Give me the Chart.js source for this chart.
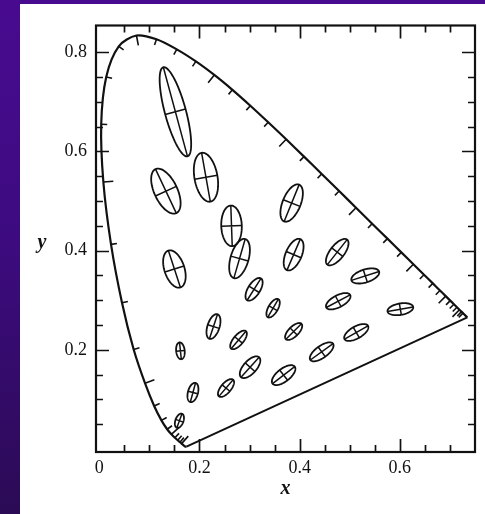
<!DOCTYPE html>
<html>
<head>
<meta charset="utf-8">
<script src="https://cdn.jsdelivr.net/npm/chart.js@4.4.1/dist/chart.umd.min.js"></script>
<style>
  html, body { margin: 0; padding: 0; }
  body {
    width: 485px; height: 514px; overflow: hidden; position: relative;
    background: linear-gradient(to bottom, #480b90 0%, #3d0b80 45%, #2b0b55 100%);
  }
  #panel {
    position: absolute; left: 20px; top: 4px; width: 465px; height: 510px;
    background: #ffffff;
  }
</style>
</head>
<body>
<div id="panel"><canvas id="macadam" width="465" height="510"></canvas></div>
<script>
// Spectral locus, CIE 1931 chromaticity, 380-700 nm in 5 nm steps
const wavelengths = [380,385,390,395,400,405,410,415,420,425,430,435,440,445,450,455,460,465,470,475,
  480,485,490,495,500,505,510,515,520,525,530,535,540,545,550,555,560,565,570,575,580,585,590,595,
  600,605,610,615,620,625,630,635,640,645,650,655,660,665,670,675,680,685,690,695,700];
const locusX = [0.1741,0.1740,0.1738,0.1736,0.1733,0.1730,0.1726,0.1721,0.1714,0.1703,0.1689,0.1669,
  0.1644,0.1611,0.1566,0.1510,0.1440,0.1355,0.1241,0.1096,0.0913,0.0687,0.0454,0.0235,0.0082,0.0039,
  0.0139,0.0389,0.0743,0.1142,0.1547,0.1929,0.2296,0.2658,0.3016,0.3373,0.3731,0.4087,0.4441,0.4788,
  0.5125,0.5448,0.5752,0.6029,0.6270,0.6482,0.6658,0.6801,0.6915,0.7006,0.7079,0.7140,0.7190,0.7230,
  0.7260,0.7283,0.7300,0.7311,0.7320,0.7327,0.7334,0.7340,0.7344,0.7346,0.7347];
const locusY = [0.0050,0.0050,0.0049,0.0049,0.0048,0.0048,0.0048,0.0048,0.0051,0.0058,0.0069,0.0086,
  0.0109,0.0138,0.0177,0.0227,0.0297,0.0399,0.0578,0.0868,0.1327,0.2007,0.2950,0.4127,0.5384,0.6548,
  0.7502,0.8120,0.8338,0.8262,0.8059,0.7816,0.7543,0.7243,0.6923,0.6589,0.6245,0.5896,0.5547,0.5202,
  0.4866,0.4544,0.4242,0.3965,0.3725,0.3514,0.3340,0.3197,0.3083,0.2993,0.2920,0.2859,0.2809,0.2770,
  0.2740,0.2717,0.2700,0.2689,0.2680,0.2673,0.2666,0.2660,0.2656,0.2654,0.2653];

// MacAdam ellipses: centre (x, y), semi-axes in units of 0.001, major-axis angle in degrees
const ellipseX = [0.160,0.187,0.253,0.152,0.133,0.213,0.264,0.150,0.280,0.384,0.162,0.228,0.309,
  0.388,0.475,0.531,0.477,0.513,0.601,0.347,0.388,0.444,0.278,0.301,0.368];
const ellipseY = [0.057,0.114,0.123,0.680,0.520,0.548,0.450,0.363,0.384,0.496,0.198,0.247,0.322,
  0.392,0.397,0.349,0.298,0.235,0.282,0.284,0.237,0.196,0.220,0.165,0.149];
const ellipseA = [1.5,2.0,2.2,9.3,4.9,5.0,4.1,3.9,4.1,4.0,1.7,2.6,2.6,3.4,3.2,2.9,2.7,2.7,2.6,
  2.1,2.2,2.8,2.3,2.7,2.8];
const ellipseB = [0.8,1.0,1.0,2.1,2.3,2.3,2.05,2.0,1.8,1.8,0.85,1.2,1.2,1.6,1.4,1.3,1.2,1.2,1.15,
  0.95,1.0,1.2,1.0,1.3,1.3];
const ellipseAngle = [70,75,50,105,115,100,92,108,74,68,96,72,58,67,52,18,28,30,10,
  60,45,36,50,48,38];
const magnify = 10; // ellipses are drawn ten times their true size

const xTickLabels = [0, 0.2, 0.4, 0.6];
const yTickLabels = [0.2, 0.4, 0.6, 0.8];

const ink = '#111111';
const serif = '"Liberation Serif", "Times New Roman", serif';

const locusPoints = locusX.map((v, i) => ({ x: v, y: locusY[i] }));
const purpleLine = [locusPoints[0], locusPoints[locusPoints.length - 1]];

// frame with inward ticks, wavelength marks, ellipses and axis letters
const diagramMarks = {
  id: 'diagramMarks',
  afterDatasetsDraw(chart) {
    const { ctx, chartArea: area, scales: { x, y } } = chart;
    const px = v => x.getPixelForValue(v);
    const py = v => y.getPixelForValue(v);
    ctx.save();
    ctx.strokeStyle = ink;
    ctx.fillStyle = ink;

    // ellipses with their two axes
    ctx.lineWidth = 1.8;
    ellipseX.forEach((cx, i) => {
      const cy = ellipseY[i];
      const t = ellipseAngle[i] * Math.PI / 180;
      const ra = ellipseA[i] * 0.001 * magnify;
      const rb = ellipseB[i] * 0.001 * magnify;
      const ux = Math.cos(t), uy = Math.sin(t);
      const P = (u, v) => [px(cx + u * ux - v * uy), py(cy + u * uy + v * ux)];
      ctx.beginPath();
      for (let k = 0; k <= 90; k++) {
        const s = k / 90 * Math.PI * 2;
        const [qx, qy] = P(ra * Math.cos(s), rb * Math.sin(s));
        if (k === 0) ctx.moveTo(qx, qy); else ctx.lineTo(qx, qy);
      }
      ctx.closePath();
      ctx.stroke();
      ctx.beginPath();
      let a1 = P(-ra, 0), a2 = P(ra, 0);
      ctx.moveTo(a1[0], a1[1]); ctx.lineTo(a2[0], a2[1]);
      a1 = P(0, -rb); a2 = P(0, rb);
      ctx.moveTo(a1[0], a1[1]); ctx.lineTo(a2[0], a2[1]);
      ctx.lineWidth = 1.5;
      ctx.stroke();
      ctx.lineWidth = 1.8;
    });

    // wavelength marks on the locus, pointing inwards
    const wx = px(0.33), wy = py(0.33);
    ctx.lineWidth = 1.6;
    ctx.beginPath();
    wavelengths.forEach((wl, i) => {
      if (wl < 440 || wl > 650) return;
      const x0 = px(locusX[i]), y0 = py(locusY[i]);
      const tx = px(locusX[i + 1]) - px(locusX[i - 1]);
      const ty = py(locusY[i + 1]) - py(locusY[i - 1]);
      const tl = Math.hypot(tx, ty);
      let nx = -ty / tl, ny = tx / tl;
      if (nx * (wx - x0) + ny * (wy - y0) < 0) { nx = -nx; ny = -ny; }
      const len = wl % 20 === 0 ? 10 : 6;
      ctx.moveTo(x0, y0);
      ctx.lineTo(x0 + nx * len, y0 + ny * len);
    });
    ctx.stroke();

    // inward axis ticks on all four sides
    ctx.lineWidth = 1.7;
    ctx.beginPath();
    for (let k = 1; k <= 14; k++) {
      const xp = Math.round(px(k * 0.05)) + 0.5;
      const len = k % 4 === 0 ? 13 : 7;
      ctx.moveTo(xp, area.bottom); ctx.lineTo(xp, area.bottom - len);
      ctx.moveTo(xp, area.top); ctx.lineTo(xp, area.top + len);
    }
    for (let k = 1; k <= 16; k++) {
      const yp = Math.round(py(k * 0.05)) + 0.5;
      const len = k % 4 === 0 ? 13 : 7;
      ctx.moveTo(area.left, yp); ctx.lineTo(area.left + len, yp);
      ctx.moveTo(area.right, yp); ctx.lineTo(area.right - len, yp);
    }
    ctx.stroke();

    ctx.lineWidth = 2.2;
    ctx.strokeRect(area.left, area.top, area.right - area.left, area.bottom - area.top);

    // axis letters
    ctx.font = 'italic bold 20px ' + serif;
    ctx.textAlign = 'center';
    ctx.textBaseline = 'alphabetic';
    ctx.fillText('x', (area.left + area.right) / 2, area.bottom + 42);
    ctx.fillText('y', area.left - 54, (area.top + area.bottom) / 2 + 9);
    ctx.restore();
  }
};

const tickFont = { family: serif, size: 18 };

new Chart(document.getElementById('macadam').getContext('2d'), {
  type: 'scatter',
  data: {
    datasets: [
      {
        label: 'Spectral locus',
        data: locusPoints,
        showLine: true,
        borderColor: ink,
        borderWidth: 2.2,
        pointRadius: 0,
        tension: 0.3
      },
      {
        label: 'Purple line',
        data: purpleLine,
        showLine: true,
        borderColor: ink,
        borderWidth: 2,
        pointRadius: 0
      }
    ]
  },
  options: {
    responsive: false,
    animation: false,
    events: [],
    layout: { padding: { top: 21.5, right: 10, left: 0, bottom: 0 } },
    plugins: { legend: { display: false }, tooltip: { enabled: false } },
    scales: {
      x: {
        type: 'linear',
        min: -0.0065,
        max: 0.75,
        afterBuildTicks: s => { s.ticks = xTickLabels.map(v => ({ value: v })); },
        afterFit: s => { s.height = 62; },
        grid: { display: false, drawTicks: false },
        border: { display: false },
        ticks: {
          color: ink,
          font: tickFont,
          padding: 5,
          maxRotation: 0,
          autoSkip: false,
          callback: v => (v === 0 ? '0' : v.toFixed(1))
        }
      },
      y: {
        type: 'linear',
        min: -0.006,
        max: 0.854,
        afterBuildTicks: s => { s.ticks = yTickLabels.map(v => ({ value: v })); },
        afterFit: s => { s.width = 76; },
        grid: { display: false, drawTicks: false },
        border: { display: false },
        ticks: {
          color: ink,
          font: tickFont,
          padding: 9,
          autoSkip: false,
          callback: v => v.toFixed(1)
        }
      }
    }
  },
  plugins: [diagramMarks]
});
</script>
</body>
</html>
